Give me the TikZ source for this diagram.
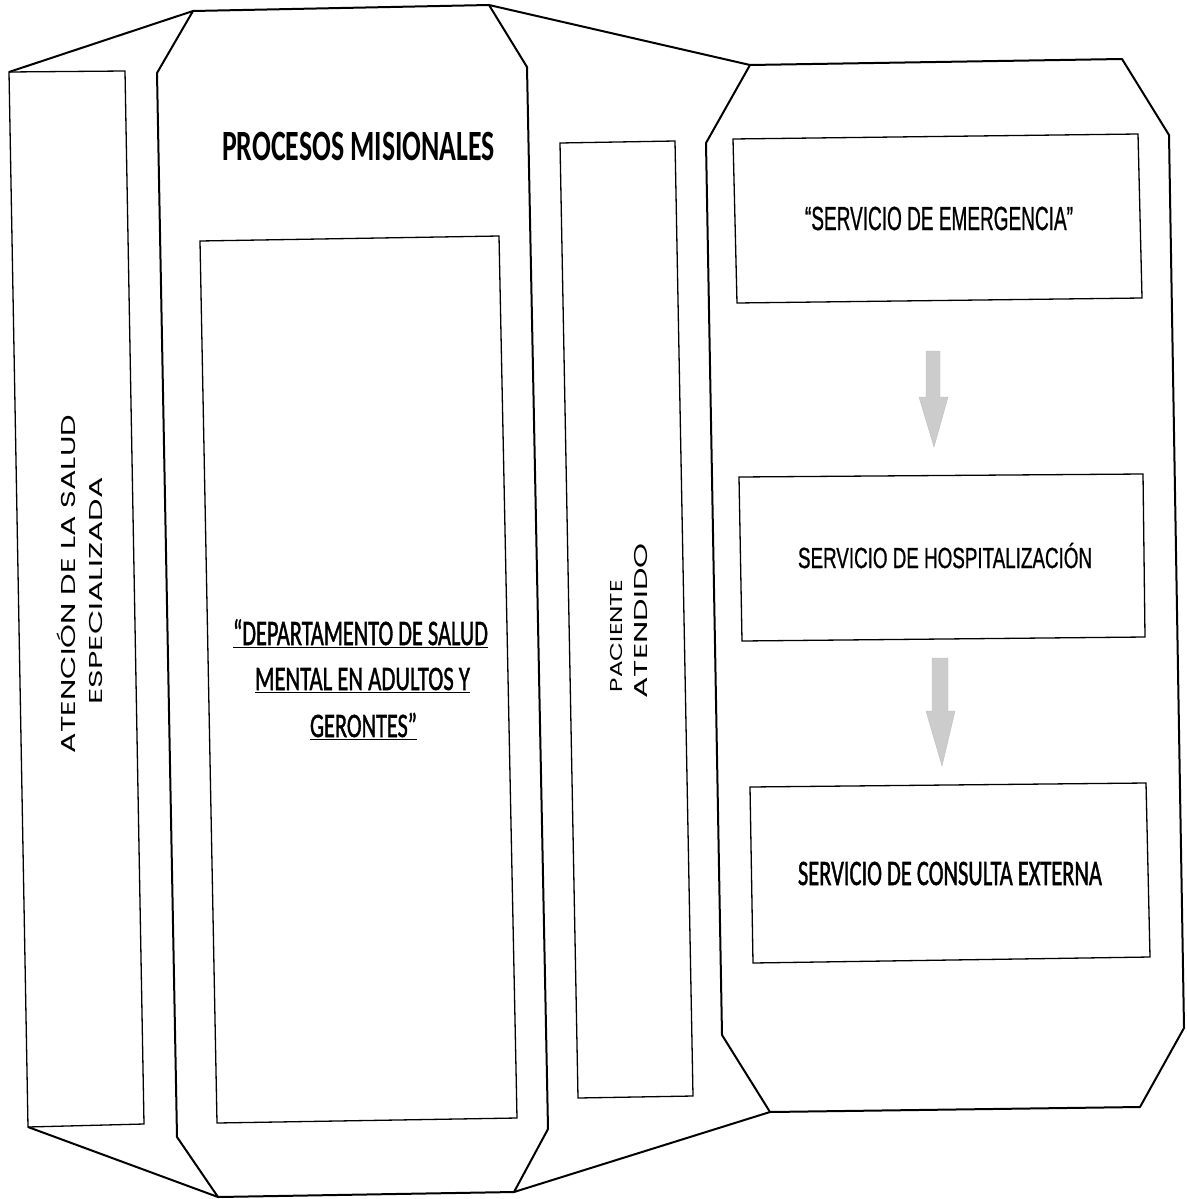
\documentclass[tikz,border=0pt]{standalone}
\usepackage{fontspec}
\setmainfont{Carlito}
\newfontfamily\calib{Carlito}
\newfontfamily\calibh{Carlito}[FakeBold=1.6]
\newfontfamily\arialn{Liberation Sans}[FakeBold=1.0]
\newfontfamily\gothic{Poppins}
\newcommand\fitcap[3]{\resizebox{#1pt}{#2pt}{\raisebox{0pt}[\fontcharht\font`A][0pt]{#3}}}
\begin{document}
\begin{tikzpicture}[x=1pt,y=-1pt,
  outer/.style={line width=2pt,line join=round},
  inner/.style={line width=1.3pt,line join=miter},
  garrow/.style={fill=black!20,draw=black!26,line width=0.4pt},
  txt/.style={anchor=base,inner sep=0pt,font=\fontsize{20}{24}\selectfont}]
\useasboundingbox (0,0) rectangle (1186,1199);

% ---------- left panel ----------
\coordinate (lp1) at (9,72);
\coordinate (lp2) at (125,71);
\coordinate (lp3) at (144,1124);
\coordinate (lp4) at (28,1127);
\draw[inner] (lp1) -- (lp2) -- (lp3) -- (lp4) -- cycle;

% ---------- middle octagon ----------
\coordinate (m1) at (193,11);
\coordinate (m2) at (489,5);
\coordinate (m3) at (527,67);
\coordinate (m4) at (548,1129);
\coordinate (m5) at (514,1192);
\coordinate (m6) at (218,1197);
\coordinate (m7) at (177,1137);
\coordinate (m8) at (157,73);
\draw[outer] (m1) -- (m2) -- (m3) -- (m4) -- (m5) -- (m6) -- (m7) -- (m8) -- cycle;
\draw[outer] (lp1) -- (m1);
\draw[outer] (lp4) -- (m6);

% inner rectangle of middle octagon
\coordinate (d1) at (200,241);
\coordinate (d2) at (499,236);
\coordinate (d3) at (517,1118);
\coordinate (d4) at (217,1123);
\draw[inner] (d1) -- (d2) -- (d3) -- (d4) -- cycle;

% ---------- narrow panel ----------
\coordinate (p1) at (560,143);
\coordinate (p2) at (675,141);
\coordinate (p3) at (693,1096);
\coordinate (p4) at (578,1098);
\draw[inner] (p1) -- (p2) -- (p3) -- (p4) -- cycle;

% ---------- right octagon ----------
\coordinate (r1) at (750,65);
\coordinate (r2) at (1122,59);
\coordinate (r3) at (1169,135);
\coordinate (r4) at (1184,1028);
\coordinate (r5) at (1140,1107);
\coordinate (r6) at (770,1112);
\coordinate (r7) at (722,1035);
\coordinate (r8) at (706,143);
\draw[outer] (r1) -- (r2) -- (r3) -- (r4) -- (r5) -- (r6) -- (r7) -- (r8) -- cycle;
\draw[outer] (m2) -- (r1);
\draw[outer] (m5) -- (r6);

% boxes in right octagon
\coordinate (e1) at (733,139);
\coordinate (e2) at (1138,134);
\coordinate (e3) at (1142,298);
\coordinate (e4) at (737,303);
\draw[inner] (e1) -- (e2) -- (e3) -- (e4) -- cycle;
\coordinate (h1) at (739,477);
\coordinate (h2) at (1143,474);
\coordinate (h3) at (1145,637);
\coordinate (h4) at (742,641);
\draw[inner] (h1) -- (h2) -- (h3) -- (h4) -- cycle;
\coordinate (c1) at (750,787);
\coordinate (c2) at (1146,783);
\coordinate (c3) at (1150,957);
\coordinate (c4) at (753,963);
\draw[inner] (c1) -- (c2) -- (c3) -- (c4) -- cycle;

% grey arrows
\fill[garrow] (926,351) -- (940,351) -- (940,397) -- (948,397) -- (934,447)
  -- (919,397) -- (926,397) -- cycle;
\fill[garrow] (932,658) -- (948,658) -- (948,711) -- (955,711) -- (942,766)
  -- (926,711) -- (932,711) -- cycle;

% ---------- texts ----------
\node[txt] (proc) at (358.5,160) {\calib\bfseries\fitcap{273}{28}{PROCESOS MISIONALES}};
\node[txt] (dept1) at (360.5,645) {\calibh\fitcap{255}{23}{\underline{“DEPARTAMENTO DE SALUD}}};
\node[txt] (dept2) at (362.5,690) {\calibh\fitcap{215}{22}{\underline{MENTAL EN ADULTOS Y}}};
\node[txt] (dept3) at (363.5,737) {\calibh\fitcap{107}{22}{\underline{GERONTES”}}};

\node[txt,rotate=90] (aten1) at (75,584) {\gothic\fitcap{338}{14}{ATENCIÓN DE LA SALUD}};
\node[txt,rotate=90] (aten2) at (102,591) {\gothic\fitcap{227}{13}{ESPECIALIZADA}};

\node[txt,rotate=90] (pac1) at (622,636) {\gothic\fitcap{112}{12}{PACIENTE}};
\node[txt,rotate=90] (pac2) at (647,621) {\gothic\fitcap{155}{13}{ATENDIDO}};

\node[txt] (emer) at (939,230) {\arialn\fitcap{268}{23}{“SERVICIO DE EMERGENCIA”}};
\node[txt] (hosp) at (945,568) {\arialn\fitcap{294}{20}{SERVICIO DE HOSPITALIZACIÓN}};
\node[txt] (cons) at (950,885) {\calibh\fitcap{304}{23}{SERVICIO DE CONSULTA EXTERNA}};
\end{tikzpicture}
\end{document}
